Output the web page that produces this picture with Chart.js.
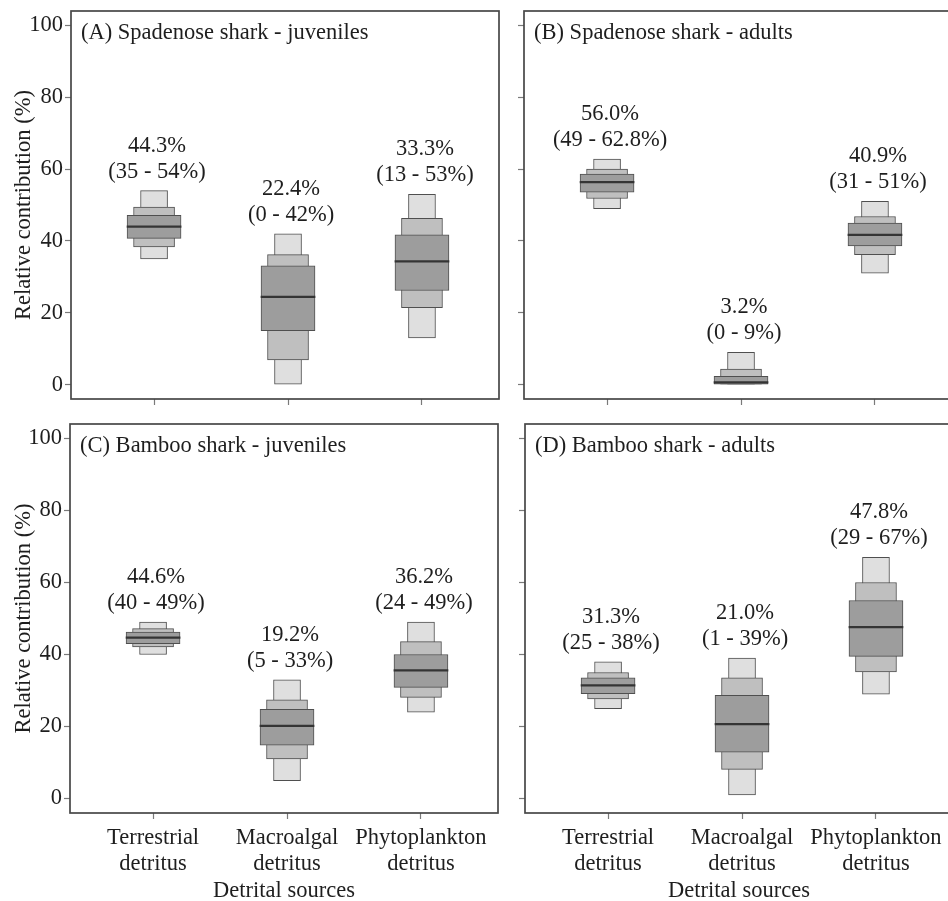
<!DOCTYPE html>
<html>
<head>
<meta charset="utf-8">
<script src="https://cdn.jsdelivr.net/npm/chart.js@4"></script>
<style>
  html, body { margin: 0; padding: 0; background: #fff; }
  #wrap { position: relative; width: 948px; height: 901px; overflow: hidden; background: #fff; }
  #wrap canvas { position: absolute; }
</style>
</head>
<body>
<div id="wrap">
  <canvas id="panelA" width="500" height="410" style="left:0px;top:0px"></canvas>
  <canvas id="panelB" width="470" height="410" style="left:500px;top:0px"></canvas>
  <canvas id="panelC" width="500" height="505" style="left:0px;top:400px"></canvas>
  <canvas id="panelD" width="470" height="505" style="left:500px;top:400px"></canvas>
</div>
<script>
// Detrital sources on the x axis
const sources = [['Terrestrial', 'detritus'], ['Macroalgal', 'detritus'], ['Phytoplankton', 'detritus']];
const yTicks = [0, 20, 40, 60, 80, 100];

// (A) Spadenose shark - juveniles
const spadeJuvCI95 = [[35, 54], [0, 42], [13, 53]];
const spadeJuvCI75 = [[38.3, 49.4], [6.9, 36.2], [21.4, 46.3]];
const spadeJuvCI50 = [[40.7, 47.1], [15.0, 33.1], [26.2, 41.7]];
const spadeJuvMedian = [44.0, 24.4, 34.3];
const spadeJuvMode = [44.3, 22.4, 33.3];

// (B) Spadenose shark - adults
const spadeAdCI95 = [[49, 62.8], [0, 9], [31, 51]];
const spadeAdCI75 = [[51.8, 60.0], [0, 4.3], [36.2, 46.8]];
const spadeAdCI50 = [[53.6, 58.6], [0, 2.3], [38.6, 45.0]];
const spadeAdMedian = [56.4, 0.6, 41.7];
const spadeAdMode = [56.0, 3.2, 40.9];

// (C) Bamboo shark - juveniles
const bambooJuvCI95 = [[40, 49], [5, 33], [24, 49]];
const bambooJuvCI75 = [[42.1, 47.2], [11.0, 27.4], [28.1, 43.6]];
const bambooJuvCI50 = [[43.0, 46.2], [14.8, 24.8], [30.9, 40.0]];
const bambooJuvMedian = [44.7, 20.2, 35.6];
const bambooJuvMode = [44.6, 19.2, 36.2];

// (D) Bamboo shark - adults
const bambooAdCI95 = [[25, 38], [1, 39], [29, 67]];
const bambooAdCI75 = [[27.7, 35.0], [8.1, 33.5], [35.2, 60.0]];
const bambooAdCI50 = [[29.1, 33.5], [12.9, 28.7], [39.5, 55.0]];
const bambooAdMedian = [31.4, 20.7, 47.6];
const bambooAdMode = [31.3, 21.0, 47.8];

const FONT = '"Liberation Serif", "Times New Roman", serif';
const FSIZE = 22.5;
const TEXT = '#1e1e1e';

// Frame around the plotting area
const framePlugin = {
  id: 'frame',
  afterDraw(chart) {
    const { ctx, chartArea: a } = chart;
    ctx.save();
    ctx.strokeStyle = '#474747';
    ctx.lineWidth = 1.7;
    ctx.strokeRect(a.left, a.top, a.right - a.left, a.bottom - a.top);
    ctx.restore();
  }
};

// Panel title and the value / interval labels above each source
const labelPlugin = {
  id: 'sourceLabels',
  afterDatasetsDraw(chart, args, opts) {
    const { ctx, chartArea: a, scales: { x, y } } = chart;
    ctx.save();
    ctx.fillStyle = TEXT;
    ctx.font = FSIZE + 'px ' + FONT;
    ctx.textBaseline = 'alphabetic';
    ctx.textAlign = 'left';
    ctx.fillText(opts.title, a.left + 10, a.top + 28);
    ctx.textAlign = 'center';
    opts.ci95.forEach((r, i) => {
      const cx = x.getPixelForValue(i + 1) + 3;
      const top = y.getPixelForValue(r[1]);
      ctx.fillText('(' + r[0] + ' - ' + r[1] + '%)', cx, top - 13);
      ctx.fillText(opts.mode[i].toFixed(1) + '%', cx, top - 39);
    });
    ctx.restore();
  }
};

function boxes(ranges) {
  return ranges.map((r, i) => ({ x: i + 1, y: r }));
}

function makePanel(id, p) {
  const medianBars = p.median.map((m, i) => ({ x: i + 1, y: [m - 0.22, m + 0.22] }));
  new Chart(document.getElementById(id), {
    type: 'bar',
    data: {
      datasets: [
        { label: 'median', data: medianBars, backgroundColor: '#343434', borderWidth: 0, barThickness: 54 },
        { label: '50%', data: boxes(p.ci50), backgroundColor: '#9d9d9d', borderColor: '#4f4f4f', borderWidth: 1, borderSkipped: false, barThickness: 54 },
        { label: '75%', data: boxes(p.ci75), backgroundColor: '#bfbfbf', borderColor: '#4f4f4f', borderWidth: 1, borderSkipped: false, barThickness: 41 },
        { label: '95%', data: boxes(p.ci95), backgroundColor: '#dfdfdf', borderColor: '#4f4f4f', borderWidth: 1, borderSkipped: false, barThickness: 27 }
      ]
    },
    options: {
      responsive: false,
      animation: false,
      events: [],
      datasets: { bar: { grouped: false } },
      layout: { padding: { left: 0, top: p.padTop, right: p.padRight, bottom: 0 } },
      plugins: {
        legend: { display: false },
        tooltip: { enabled: false },
        sourceLabels: { title: p.title, ci95: p.ci95, mode: p.mode }
      },
      scales: {
        x: {
          type: 'linear',
          min: 0.38,
          max: 3.575,
          offset: false,
          afterBuildTicks: s => { s.ticks = [1, 2, 3].map(v => ({ value: v })); },
          afterFit: s => { s.height = p.xHeight; s.paddingLeft = 0; s.paddingRight = 0; },
          border: { display: false },
          grid: { offset: false, drawOnChartArea: false, drawTicks: true, tickLength: 6, color: '#7a7a7a', tickWidth: 1.2 },
          ticks: {
            display: true,
            autoSkip: false,
            maxRotation: 0,
            padding: 6,
            color: TEXT,
            font: { family: FONT, size: FSIZE, lineHeight: 1.17 },
            callback: (v, i) => p.showX ? sources[i] : ''
          },
          title: {
            display: p.showX,
            text: 'Detrital sources',
            color: TEXT,
            font: { family: FONT, size: FSIZE, lineHeight: 1.2 },
            padding: { top: 0, bottom: 0 }
          }
        },
        y: {
          type: 'linear',
          min: -4,
          max: 104,
          afterBuildTicks: s => { s.ticks = yTicks.map(v => ({ value: v })); },
          afterFit: s => { s.width = p.yWidth; s.paddingTop = 0; s.paddingBottom = 0; },
          border: { display: false },
          grid: { drawOnChartArea: false, drawTicks: true, tickLength: 6, color: '#7a7a7a', tickWidth: 1.2 },
          ticks: {
            padding: 2,
            color: TEXT,
            font: { family: FONT, size: FSIZE },
            callback: v => p.showY ? String(v) : ''
          },
          title: {
            display: p.showY,
            text: 'Relative contribution (%)',
            color: TEXT,
            font: { family: FONT, size: FSIZE, lineHeight: 1.2 },
            padding: { top: 11, bottom: 0 }
          }
        }
      }
    },
    plugins: [framePlugin, labelPlugin]
  });
}

makePanel('panelA', {
  title: '(A) Spadenose shark - juveniles',
  ci95: spadeJuvCI95, ci75: spadeJuvCI75, ci50: spadeJuvCI50, median: spadeJuvMedian, mode: spadeJuvMode,
  padTop: 11, padRight: 1, yWidth: 71, xHeight: 11, showX: false, showY: true
});
makePanel('panelB', {
  title: '(B) Spadenose shark - adults',
  ci95: spadeAdCI95, ci75: spadeAdCI75, ci50: spadeAdCI50, median: spadeAdMedian, mode: spadeAdMode,
  padTop: 11, padRight: 18, yWidth: 24, xHeight: 11, showX: false, showY: false
});
makePanel('panelC', {
  title: '(C) Bamboo shark - juveniles',
  ci95: bambooJuvCI95, ci75: bambooJuvCI75, ci50: bambooJuvCI50, median: bambooJuvMedian, mode: bambooJuvMode,
  padTop: 24, padRight: 2, yWidth: 70, xHeight: 92, showX: true, showY: true
});
makePanel('panelD', {
  title: '(D) Bamboo shark - adults',
  ci95: bambooAdCI95, ci75: bambooAdCI75, ci50: bambooAdCI50, median: bambooAdMedian, mode: bambooAdMode,
  padTop: 24, padRight: 17, yWidth: 25, xHeight: 92, showX: true, showY: false
});
</script>
</body>
</html>
